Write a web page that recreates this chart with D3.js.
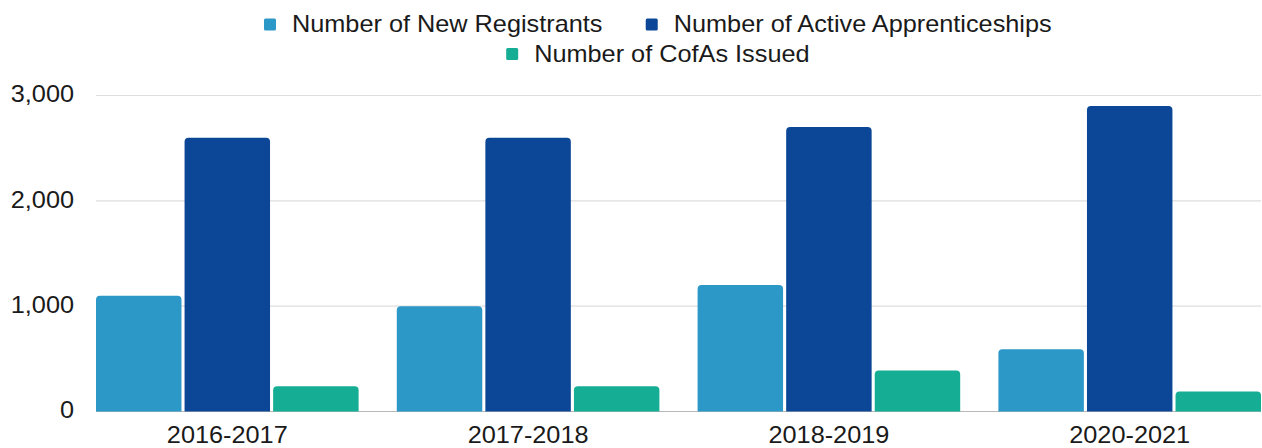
<!DOCTYPE html>
<html>
<head>
<meta charset="utf-8">
<script src="https://cdn.jsdelivr.net/npm/d3@7/dist/d3.min.js"></script>
<style>
  html, body { margin: 0; padding: 0; background: #ffffff; }
  svg { display: block; }
  text { font-family: "Liberation Sans", Arial, Helvetica, sans-serif; fill: #1a1a1a; }
</style>
</head>
<body>
<svg id="chart" width="1262" height="448"></svg>
<script>
// Apprenticeship figures by fiscal year
const years = ["2016-2017", "2017-2018", "2018-2019", "2020-2021"];
const seriesNames = ["Number of New Registrants", "Number of Active Apprenticeships", "Number of CofAs Issued"];
const newRegistrants = [1100, 1000, 1200, 590];
const activeApprenticeships = [2600, 2600, 2700, 2900];
const cofasIssued = [240, 240, 390, 190];
const seriesColors = ["#2b98c8", "#0b4796", "#15ae95"];
const yTicks = [0, 1000, 2000, 3000];

const seriesValues = [newRegistrants, activeApprenticeships, cofasIssued];

const plot = { left: 96, right: 1261, top: 95.5, bottom: 411.5 };
const FONT = 23, STRETCH = 1.1;

const svg = d3.select("#chart");

const x0 = d3.scaleBand().domain(years).range([plot.left, plot.right])
  .paddingInner(0.127).paddingOuter(0);
const x1 = d3.scaleBand().domain(d3.range(seriesNames.length)).range([0, x0.bandwidth()])
  .paddingInner(0.035).paddingOuter(0);
const y = d3.scaleLinear().domain([0, 3000]).range([plot.bottom, plot.top]);

// Horizontal gridlines
svg.append("g")
  .selectAll("line")
  .data(yTicks)
  .join("line")
  .attr("x1", plot.left)
  .attr("x2", plot.right)
  .attr("y1", d => y(d))
  .attr("y2", d => y(d))
  .attr("stroke", d => d === 0 ? "#b8b8b8" : "#dedede")
  .attr("stroke-width", 1.2);

// Y axis labels
const yAxis = d3.axisLeft(y).tickValues(yTicks).tickFormat(d3.format(",")).tickSize(0).tickPadding(0);
const yG = svg.append("g").attr("transform", "translate(74,0)").call(yAxis);
yG.select(".domain").remove();
yG.selectAll("text")
  .attr("x", 0)
  .attr("dy", "0.28em")
  .attr("transform", `scale(${STRETCH},1)`)
  .style("font-size", FONT + "px")
  .style("font-family", "'Liberation Sans', Arial, sans-serif")
  .attr("fill", "#1a1a1a");

// X axis labels
const xAxis = d3.axisBottom(x0).tickSize(0).tickPadding(0);
const xG = svg.append("g").attr("transform", "translate(0,443)").call(xAxis);
xG.select(".domain").remove();
xG.selectAll("text")
  .attr("y", 0)
  .attr("dy", 0)
  .attr("transform", `scale(${STRETCH},1)`)
  .style("font-size", FONT + "px")
  .style("font-family", "'Liberation Sans', Arial, sans-serif")
  .attr("fill", "#1a1a1a");

// Bars with rounded top corners
function topRounded(x, yTop, w, yBase, r) {
  r = Math.min(r, w / 2, (yBase - yTop));
  return `M${x},${yBase}V${yTop + r}Q${x},${yTop} ${x + r},${yTop}` +
         `H${x + w - r}Q${x + w},${yTop} ${x + w},${yTop + r}V${yBase}Z`;
}

const groups = svg.append("g")
  .selectAll("g")
  .data(years)
  .join("g")
  .attr("transform", d => `translate(${x0(d)},0)`);

groups.selectAll("path")
  .data((d, i) => seriesValues.map((vals, s) => ({ s, v: vals[i] })))
  .join("path")
  .attr("d", d => topRounded(x1(d.s), y(d.v), x1.bandwidth(), y(0), 4))
  .attr("fill", d => seriesColors[d.s]);

// Legend: two centred rows
const legendRows = [[0, 1], [2]];
const legendBaselines = [32, 61.5];
const legendCenter = 658;
const sq = 12, sqGap = 16, itemGap = 43;

const measure = svg.append("text").style("font-size", FONT + "px").attr("opacity", 0);
function textWidth(s) { measure.text(s); return measure.node().getComputedTextLength() * STRETCH; }

legendRows.forEach((row, r) => {
  const widths = row.map(s => sq + sqGap + textWidth(seriesNames[s]));
  const total = d3.sum(widths) + itemGap * (row.length - 1);
  let cx = legendCenter - total / 2;
  row.forEach((s, k) => {
    const base = legendBaselines[r];
    svg.append("rect")
      .attr("x", cx).attr("y", base - 13.5)
      .attr("width", sq).attr("height", sq)
      .attr("rx", 1.5)
      .attr("fill", seriesColors[s]);
    svg.append("text")
      .attr("transform", `translate(${cx + sq + sqGap},${base}) scale(${STRETCH},1)`)
      .style("font-size", FONT + "px")
      .text(seriesNames[s]);
    cx += widths[k] + itemGap;
  });
});
measure.remove();
</script>
</body>
</html>
